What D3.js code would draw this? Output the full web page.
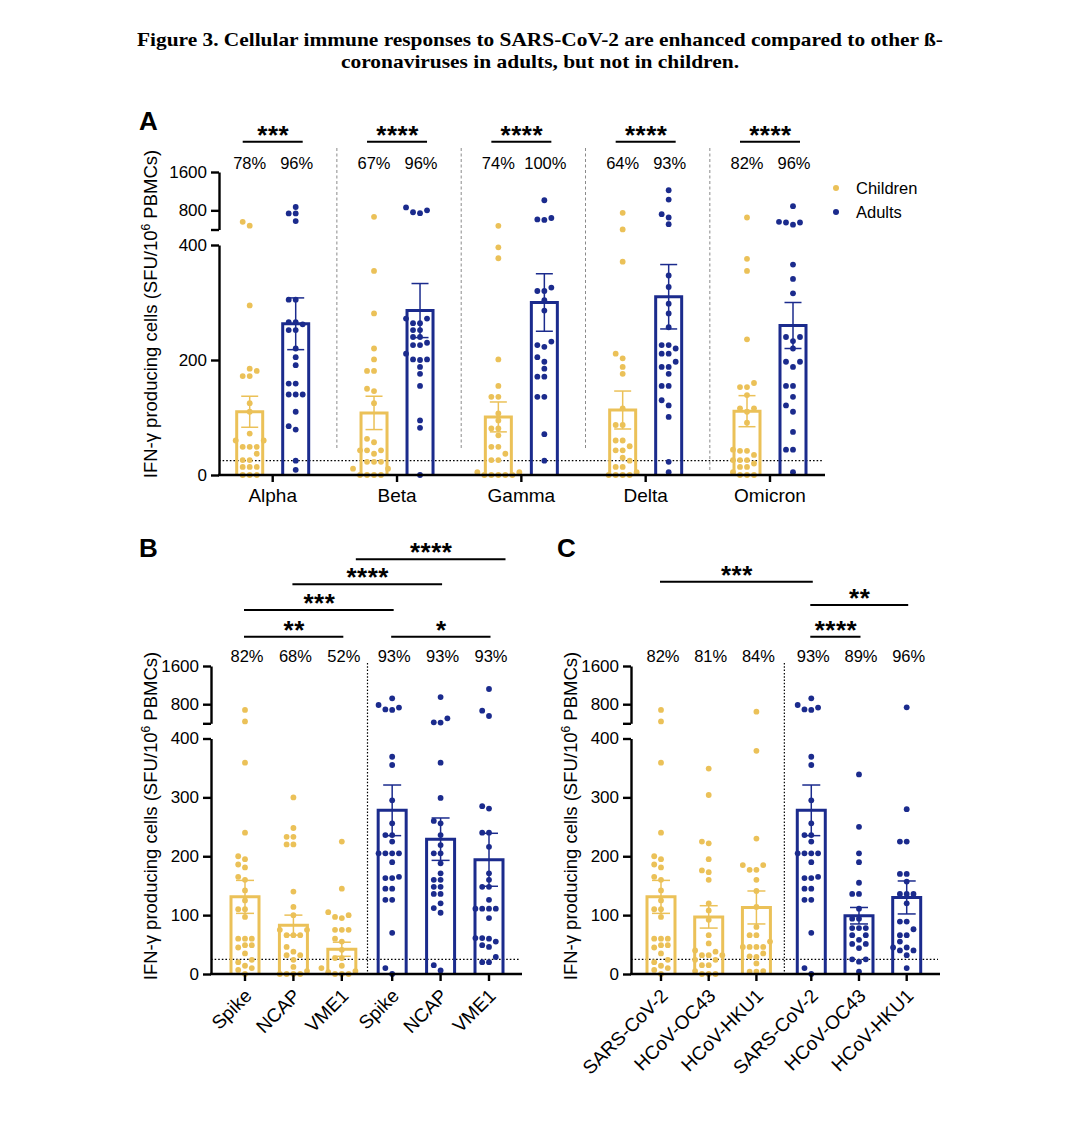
<!DOCTYPE html>
<html>
<head>
<meta charset="utf-8">
<script src="https://cdn.jsdelivr.net/npm/d3@7"></script>
<style>
  body { margin: 0; background: #fff; }
  text { font-family: "Liberation Sans", Arial, sans-serif; }
</style>
</head>
<body>
<svg id="fig"></svg>
<script>
const width = 1080;
const height = 1131;
const yellow = "#EBC158";
const navy = "#1B2B8D";

const titleLines = [
  "Figure 3. Cellular immune responses to SARS-CoV-2 are enhanced compared to other ß-",
  "coronaviruses in adults, but not in children."
];
const groups = ["Children", "Adults"];

// ---- panel A: variants
const variants = ["Alpha", "Beta", "Gamma", "Delta", "Omicron"];
const starsA = ["***", "****", "****", "****", "****"];
const pctAChildren = ["78%", "67%", "74%", "64%", "82%"];
const pctAAdults = ["96%", "96%", "100%", "93%", "96%"];
const meanAChildren = [110, 108, 101, 113, 111];
const semAChildren = [27, 29, 26, 33, 27];
const meanAAdults = [263, 286, 300, 310, 260];
const semAAdults = [45, 47, 50, 56, 40];
const ptsAChildren = [
  [560, 480, 295, 185, 181, 172, 172, 125, 110, 72, 60, 60, 49, 49, 49, 37, 26, 26, 14, 14, 14, 0, 0, 0],
  [664, 355, 281, 220, 201, 181, 181, 150, 146, 125, 63, 57, 43, 43, 43, 37, 23, 23, 23, 11, 11, 0, 0, 0, 0],
  [476, 396, 377, 201, 155, 136, 136, 107, 95, 81, 81, 69, 49, 49, 37, 26, 26, 5, 5, 0, 0, 0, 0, 0],
  [747, 401, 371, 211, 203, 188, 176, 116, 87, 87, 60, 60, 50, 43, 43, 30, 25, 14, 14, 5, 0, 0, 0, 0],
  [650, 376, 355, 236, 160, 153, 153, 139, 116, 116, 110, 91, 44, 42, 42, 35, 26, 26, 26, 20, 14, 14, 5, 0, 0, 0]
];
const ptsAAdults = [
  [870, 735, 735, 575, 305, 305, 266, 266, 262, 252, 252, 220, 205, 191, 159, 159, 140, 140, 140, 110, 85, 79, 25, 9],
  [860, 800, 760, 740, 272, 272, 264, 264, 252, 252, 240, 240, 230, 226, 226, 211, 201, 201, 200, 188, 176, 155, 95, 82, 0],
  [1010, 640, 610, 600, 326, 320, 320, 304, 286, 232, 226, 223, 205, 197, 185, 171, 171, 136, 136, 71, 25],
  [1219, 1025, 719, 650, 511, 347, 327, 298, 281, 257, 226, 226, 220, 211, 211, 197, 188, 188, 176, 155, 155, 130, 121, 101, 23, 5],
  [886, 560, 546, 546, 500, 366, 341, 316, 240, 240, 233, 220, 197, 197, 188, 155, 155, 136, 121, 110, 75, 44, 44, 5]
];

// ---- panel B: antigens (children x3, adults x3)
const antigens = ["Spike", "NCAP", "VME1", "Spike", "NCAP", "VME1"];
const pctB = ["82%", "68%", "52%", "93%", "93%", "93%"];
const meanB = [131, 83, 42, 278, 229, 194];
const semB = [28, 17, 12, 43, 36, 45];
const spikeChildren = [680, 440, 359, 240, 200, 195, 186, 181, 165, 160, 142, 125, 110, 110, 97, 60, 60, 60, 49, 49, 45, 35, 24, 20, 14, 10, 7, 0];
const spikeAdults = [924, 783, 730, 690, 680, 369, 355, 295, 256, 236, 236, 225, 205, 205, 205, 205, 190, 165, 163, 163, 145, 145, 126, 126, 70, 10, 0];
const ptsB = [
  spikeChildren,
  [300, 248, 233, 233, 220, 220, 140, 114, 100, 75, 75, 66, 66, 66, 46, 38, 32, 32, 24, 12, 5, 0, 0, 0, 0],
  [225, 145, 105, 100, 97, 95, 75, 75, 75, 60, 55, 41, 27, 27, 14, 10, 5, 3, 0, 0, 0],
  spikeAdults,
  [950, 505, 420, 415, 359, 299, 260, 256, 236, 219, 205, 205, 188, 171, 160, 160, 148, 148, 136, 136, 120, 112, 104, 15, 6],
  [1118, 664, 553, 285, 281, 240, 240, 216, 171, 160, 148, 148, 126, 111, 111, 111, 111, 95, 61, 61, 60, 55, 49, 46, 29, 20, 20]
];
// [from column, to column, label]
const sigB = [[0, 2, "**"], [3, 5, "*"], [0, 3, "***"], [1, 4, "****"], [2, 5, "****"]];

// ---- panel C: coronaviruses (children x3, adults x3)
const viruses = ["SARS-CoV-2", "HCoV-OC43", "HCoV-HKU1", "SARS-CoV-2", "HCoV-OC43", "HCoV-HKU1"];
const pctC = ["82%", "81%", "84%", "93%", "89%", "96%"];
const meanC = [131, 97, 113, 278, 99, 130];
const semC = [28, 19, 28, 43, 14, 28];
const ptsC = [
  spikeChildren,
  [349, 304, 225, 222, 195, 176, 173, 160, 120, 108, 92, 66, 52, 40, 38, 32, 32, 32, 24, 24, 15, 15, 5, 0, 0, 0],
  [643, 379, 230, 185, 185, 177, 177, 160, 141, 114, 80, 66, 66, 55, 46, 46, 46, 46, 35, 30, 29, 18, 5, 4, 4],
  spikeAdults,
  [339, 250, 205, 190, 155, 136, 136, 111, 94, 94, 78, 78, 78, 66, 66, 58, 51, 51, 44, 25, 25, 21, 4],
  [735, 280, 225, 225, 170, 170, 157, 136, 136, 136, 120, 89, 89, 76, 66, 66, 55, 45, 45, 40, 40, 32, 10]
];
const sigC = [[3, 4, "****"], [3, 5, "**"], [0, 3, "***"]];

const threshold = 25;

const svg = d3.select("#fig").attr("width", width).attr("height", height);
svg.append("rect").attr("width", width).attr("height", height).attr("fill", "#fff");

// title
const title = svg.append("g")
  .attr("text-anchor", "middle")
  .attr("font-weight", "bold")
  .attr("font-size", 19);
title.append("text").attr("x", 540).attr("y", 46)
  .attr("textLength", 806).attr("lengthAdjust", "spacingAndGlyphs")
  .style("font-family", "'Liberation Serif', 'Times New Roman', serif")
  .text(titleLines[0]);
title.append("text").attr("x", 540).attr("y", 68)
  .attr("textLength", 398).attr("lengthAdjust", "spacingAndGlyphs")
  .style("font-family", "'Liberation Serif', 'Times New Roman', serif")
  .text(titleLines[1]);

function brokenScale(low, high) {
  const lo = d3.scaleLinear().domain([0, 400]).range(low);
  const hi = d3.scaleLinear().domain([400, 1600]).range(high);
  const f = v => v <= 400 ? lo(v) : hi(v);
  f.lo = lo;
  f.hi = hi;
  return f;
}

function swarm(values, cx, y, step) {
  const placed = [];
  values.slice().sort((a, b) => a - b).forEach(v => {
    const py = y(v);
    for (let k = 0; k < 60; k++) {
      const px = cx + Math.ceil(k / 2) * (k % 2 ? -1 : 1) * step;
      if (placed.every(p => Math.hypot(p.x - px, p.y - py) >= step - 0.6)) {
        placed.push({ x: px, y: py });
        break;
      }
    }
  });
  return placed;
}

function yAxis(g, x, y, lowTicks) {
  const a = g.append("g").attr("transform", translate(x, 0));
  a.append("g").call(d3.axisLeft(y.lo).tickValues(lowTicks).tickSize(8).tickSizeOuter(0).tickPadding(4));
  a.append("g").call(d3.axisLeft(y.hi).tickValues([400, 800, 1600])
    .tickFormat(d => d === 400 ? "" : d).tickSize(8).tickSizeOuter(0).tickPadding(4));
  a.selectAll("path, line").attr("stroke", "#000").attr("stroke-width", 2.4);
  a.selectAll("text").attr("font-size", 17).attr("fill", "#000")
    .style("font-family", "'Liberation Sans', Arial, sans-serif");
}

function xAxis(g, x1, x2, y0, ticks) {
  g.append("line").attr("x1", x1 - 1).attr("x2", x2).attr("y1", y0).attr("y2", y0)
    .attr("stroke", "#000").attr("stroke-width", 2.4);
  g.selectAll(null).data(ticks).join("line")
    .attr("x1", d => d).attr("x2", d => d)
    .attr("y1", y0).attr("y2", y0 + 7)
    .attr("stroke", "#000").attr("stroke-width", 2.4);
}

function yLabel(g, x, cy) {
  const t = g.append("text")
    .attr("transform", translate(x, cy) + " rotate(-90)")
    .attr("text-anchor", "middle")
    .attr("font-size", 18.5);
  t.append("tspan").text("IFN-γ producing cells (SFU/10");
  t.append("tspan").attr("dy", -7).attr("font-size", 12).text("6");
  t.append("tspan").attr("dy", 7).text(" PBMCs)");
}

function drawColumn(g, cx, y, pts, mean, sem, color, barW, capW, step) {
  const y0 = y(0);
  const ym = y(mean);
  g.append("path")
    .attr("d", `M${cx - barW / 2},${y0}V${ym}H${cx + barW / 2}V${y0}`)
    .attr("fill", "none").attr("stroke", color).attr("stroke-width", 3);
  g.selectAll(null).data(swarm(pts, cx, y, step)).join("circle")
    .attr("cx", d => d.x).attr("cy", d => d.y).attr("r", 2.9)
    .attr("fill", color);
  const e = g.append("g").attr("stroke", color).attr("stroke-width", 1.5);
  const yt = y(mean + sem), yb = y(mean - sem);
  e.append("line").attr("x1", cx).attr("x2", cx).attr("y1", yt).attr("y2", yb);
  e.append("line").attr("x1", cx - capW / 2).attr("x2", cx + capW / 2).attr("y1", yt).attr("y2", yt);
  e.append("line").attr("x1", cx - capW / 2).attr("x2", cx + capW / 2).attr("y1", yb).attr("y2", yb);
}

function sigBar(g, x1, x2, yl, label) {
  g.append("line").attr("x1", x1).attr("x2", x2).attr("y1", yl).attr("y2", yl)
    .attr("stroke", "#000").attr("stroke-width", 2);
  g.append("text").attr("x", (x1 + x2) / 2 + 0.5).attr("y", yl + 2)
    .attr("text-anchor", "middle").attr("font-weight", "bold")
    .attr("font-size", 26).attr("letter-spacing", 0.5)
    .text(label);
}

function threshLine(g, x1, x2, y) {
  g.append("line").attr("x1", x1).attr("x2", x2)
    .attr("y1", y(threshold)).attr("y2", y(threshold))
    .attr("stroke", "#000").attr("stroke-width", 1.3).attr("stroke-dasharray", "1.6,2");
}

function panelLetter(x, y, s) {
  svg.append("text").attr("x", x).attr("y", y)
    .attr("font-size", 26).attr("font-weight", "bold").text(s);
}

// ================= Panel A =================
{
  const g = svg.append("g");
  const ax = 219, xEnd = 825;
  const y = brokenScale([475, 245], [229.5, 172]);
  const x = d3.scalePoint().domain(variants).range([272.7, 770]);
  const off = 23;

  panelLetter(139, 130, "A");

  variants.slice(0, -1).forEach((v, i) => {
    const sx = (x(v) + x(variants[i + 1])) / 2 + 2;
    g.append("line").attr("x1", sx).attr("x2", sx).attr("y1", 148).attr("y2", i === 3 ? 470 : 448)
      .attr("stroke", "#8a8a8a").attr("stroke-width", 1).attr("stroke-dasharray", "3,2.5");
  });
  threshLine(g, ax, xEnd - 3, y);

  variants.forEach((v, i) => {
    drawColumn(g, x(v) - off, y, ptsAChildren[i], meanAChildren[i], semAChildren[i], yellow, 26, 17, 7);
    drawColumn(g, x(v) + off, y, ptsAAdults[i], meanAAdults[i], semAAdults[i], navy, 26, 17, 7);
    sigBar(g, x(v) - 30, x(v) + 30, 141.7, starsA[i]);
    g.append("text").attr("x", x(v) - off).attr("y", 169).attr("text-anchor", "middle")
      .attr("font-size", 16.5).text(pctAChildren[i]);
    g.append("text").attr("x", x(v) + off + 1).attr("y", 169).attr("text-anchor", "middle")
      .attr("font-size", 16.5).text(pctAAdults[i]);
    g.append("text").attr("x", x(v)).attr("y", 502).attr("text-anchor", "middle")
      .attr("font-size", 19).text(v);
  });

  xAxis(g, ax, xEnd, y(0), variants.map(v => x(v)));
  yAxis(g, ax, y, [0, 200, 400]);
  yLabel(g, 157, 314);

  const legend = g.append("g");
  groups.forEach((d, i) => {
    legend.append("circle").attr("cx", 836).attr("cy", 188 + i * 24).attr("r", 3)
      .attr("fill", i ? navy : yellow);
    legend.append("text").attr("x", 856).attr("y", 194 + i * 24)
      .attr("font-size", 16.5).text(d);
  });
}

// ================= Panels B and C =================
function drawSixPanel(opt) {
  const g = svg.append("g");
  const y = brokenScale([974, 738.5], [723.3, 666]);
  const slot = d3.scaleLinear().domain([0, 5 + opt.gap]).range(opt.range);
  const cols = opt.names.map((d, i) => slot(i + (i >= 3 ? opt.gap : 0)));

  panelLetter(opt.letterX, 557, opt.letter);

  const sx = (cols[2] + cols[3]) / 2 + 0.5;
  g.append("line").attr("x1", sx).attr("x2", sx).attr("y1", 663).attr("y2", y(0))
    .attr("stroke", "#000").attr("stroke-width", 1.2).attr("stroke-dasharray", "1.5,1.8");
  threshLine(g, opt.ax, opt.xEnd - 2, y);

  opt.names.forEach((n, i) => {
    const c = i < 3 ? yellow : navy;
    drawColumn(g, cols[i], y, opt.pts[i], opt.means[i], opt.sems[i], c, 28, 18, 6.8);
    g.append("text").attr("x", cols[i] + 2).attr("y", 662).attr("text-anchor", "middle")
      .attr("font-size", 16.5).text(opt.pct[i]);
    g.append("text")
      .attr("transform", translate(cols[i] + 8, 997) + " rotate(-45)")
      .attr("text-anchor", "end").attr("font-size", 19).text(n);
  });

  opt.sig.forEach((s, k) => {
    const dx = opt.sigDx[k];
    sigBar(g, cols[s[0]] - 1 + dx, cols[s[1]] + 1.5 + dx, opt.sigY[k], s[2]);
  });

  xAxis(g, opt.ax, opt.xEnd, y(0), cols);
  yAxis(g, opt.ax, y, [0, 100, 200, 300, 400]);
  yLabel(g, opt.ax - 54, 816);
}

drawSixPanel({
  letter: "B", letterX: 139, ax: 211, xEnd: 522,
  range: [245, 489], gap: 0.04,
  names: antigens, pct: pctB, means: meanB, sems: semB, pts: ptsB,
  sig: sigB, sigY: [636.7, 636.7, 610, 584.3, 559.3], sigDx: [0, 0, 0, 0, 15]
});

drawSixPanel({
  letter: "C", letterX: 557, ax: 631, xEnd: 940,
  range: [661, 906.7], gap: 0.15,
  names: viruses, pct: pctC, means: meanC, sems: semC, pts: ptsC,
  sig: sigC, sigY: [636.7, 605, 581.7], sigDx: [0, 0, 0]
});

function translate(x, y) {
  return "translate(" + String(x) + "," + String(y) + ")";
}
</script>
</body>
</html>
